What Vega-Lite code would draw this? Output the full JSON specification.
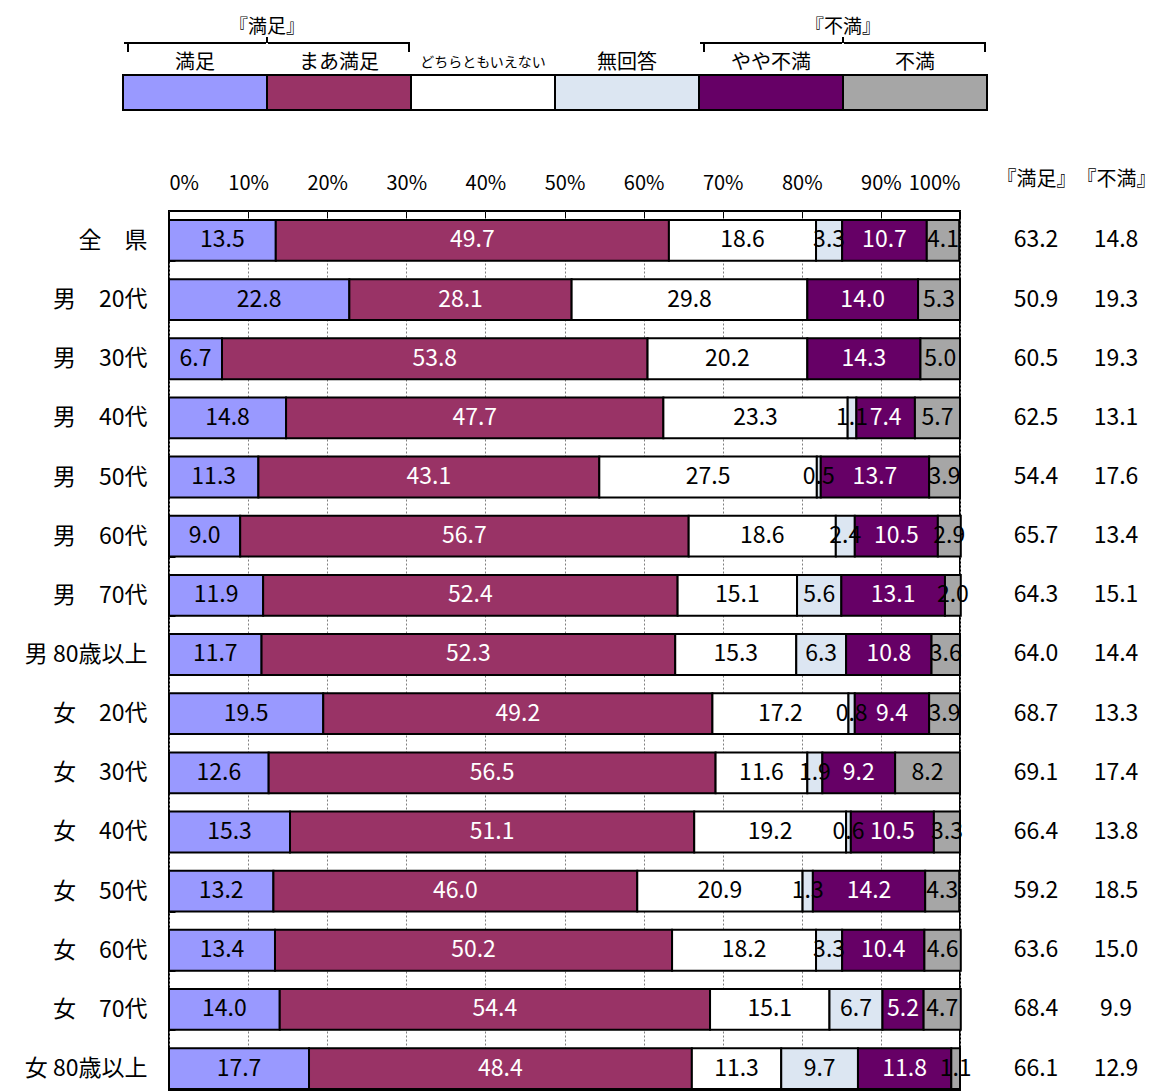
{
  "$schema": "https://vega.github.io/schema/vega-lite/v6.json",
  "background": "white",
  "padding": {"left": 3, "top": 18, "right": 0, "bottom": 0},
  "columns": 1,
  "align": "none",
  "spacing": 54,
  "config": {
    "view": {"stroke": null},
    "font": "Noto Sans CJK JP",
    "text": {"font": "Noto Sans CJK JP"},
    "axis": {"labelFont": "Noto Sans CJK JP", "titleFont": "Noto Sans CJK JP", "labelColor": "black"}
  },
  "datasets": {
    "legend": [
      {"cat": "満足", "part": "box"}, {"cat": "まあ満足", "part": "box"}, {"cat": "どちらともいえない", "part": "box"}, {"cat": "無回答", "part": "box"}, {"cat": "やや不満", "part": "box"}, {"cat": "不満", "part": "box"}
    ],
    "bars": [
      {"g": "全　県", "c": "満足", "o": 1, "v": 13.5}, {"g": "全　県", "c": "まあ満足", "o": 2, "v": 49.7}, {"g": "全　県", "c": "どちらともいえない", "o": 3, "v": 18.6}, {"g": "全　県", "c": "無回答", "o": 4, "v": 3.3}, {"g": "全　県", "c": "やや不満", "o": 5, "v": 10.7}, {"g": "全　県", "c": "不満", "o": 6, "v": 4.1},
      {"g": "男　20代", "c": "満足", "o": 1, "v": 22.8}, {"g": "男　20代", "c": "まあ満足", "o": 2, "v": 28.1}, {"g": "男　20代", "c": "どちらともいえない", "o": 3, "v": 29.8}, {"g": "男　20代", "c": "やや不満", "o": 5, "v": 14.0}, {"g": "男　20代", "c": "不満", "o": 6, "v": 5.3},
      {"g": "男　30代", "c": "満足", "o": 1, "v": 6.7}, {"g": "男　30代", "c": "まあ満足", "o": 2, "v": 53.8}, {"g": "男　30代", "c": "どちらともいえない", "o": 3, "v": 20.2}, {"g": "男　30代", "c": "やや不満", "o": 5, "v": 14.3}, {"g": "男　30代", "c": "不満", "o": 6, "v": 5.0},
      {"g": "男　40代", "c": "満足", "o": 1, "v": 14.8}, {"g": "男　40代", "c": "まあ満足", "o": 2, "v": 47.7}, {"g": "男　40代", "c": "どちらともいえない", "o": 3, "v": 23.3}, {"g": "男　40代", "c": "無回答", "o": 4, "v": 1.1}, {"g": "男　40代", "c": "やや不満", "o": 5, "v": 7.4}, {"g": "男　40代", "c": "不満", "o": 6, "v": 5.7},
      {"g": "男　50代", "c": "満足", "o": 1, "v": 11.3}, {"g": "男　50代", "c": "まあ満足", "o": 2, "v": 43.1}, {"g": "男　50代", "c": "どちらともいえない", "o": 3, "v": 27.5}, {"g": "男　50代", "c": "無回答", "o": 4, "v": 0.5}, {"g": "男　50代", "c": "やや不満", "o": 5, "v": 13.7}, {"g": "男　50代", "c": "不満", "o": 6, "v": 3.9},
      {"g": "男　60代", "c": "満足", "o": 1, "v": 9.0}, {"g": "男　60代", "c": "まあ満足", "o": 2, "v": 56.7}, {"g": "男　60代", "c": "どちらともいえない", "o": 3, "v": 18.6}, {"g": "男　60代", "c": "無回答", "o": 4, "v": 2.4}, {"g": "男　60代", "c": "やや不満", "o": 5, "v": 10.5}, {"g": "男　60代", "c": "不満", "o": 6, "v": 2.9},
      {"g": "男　70代", "c": "満足", "o": 1, "v": 11.9}, {"g": "男　70代", "c": "まあ満足", "o": 2, "v": 52.4}, {"g": "男　70代", "c": "どちらともいえない", "o": 3, "v": 15.1}, {"g": "男　70代", "c": "無回答", "o": 4, "v": 5.6}, {"g": "男　70代", "c": "やや不満", "o": 5, "v": 13.1}, {"g": "男　70代", "c": "不満", "o": 6, "v": 2.0},
      {"g": "男 80歳以上", "c": "満足", "o": 1, "v": 11.7}, {"g": "男 80歳以上", "c": "まあ満足", "o": 2, "v": 52.3}, {"g": "男 80歳以上", "c": "どちらともいえない", "o": 3, "v": 15.3}, {"g": "男 80歳以上", "c": "無回答", "o": 4, "v": 6.3}, {"g": "男 80歳以上", "c": "やや不満", "o": 5, "v": 10.8}, {"g": "男 80歳以上", "c": "不満", "o": 6, "v": 3.6},
      {"g": "女　20代", "c": "満足", "o": 1, "v": 19.5}, {"g": "女　20代", "c": "まあ満足", "o": 2, "v": 49.2}, {"g": "女　20代", "c": "どちらともいえない", "o": 3, "v": 17.2}, {"g": "女　20代", "c": "無回答", "o": 4, "v": 0.8}, {"g": "女　20代", "c": "やや不満", "o": 5, "v": 9.4}, {"g": "女　20代", "c": "不満", "o": 6, "v": 3.9},
      {"g": "女　30代", "c": "満足", "o": 1, "v": 12.6}, {"g": "女　30代", "c": "まあ満足", "o": 2, "v": 56.5}, {"g": "女　30代", "c": "どちらともいえない", "o": 3, "v": 11.6}, {"g": "女　30代", "c": "無回答", "o": 4, "v": 1.9}, {"g": "女　30代", "c": "やや不満", "o": 5, "v": 9.2}, {"g": "女　30代", "c": "不満", "o": 6, "v": 8.2},
      {"g": "女　40代", "c": "満足", "o": 1, "v": 15.3}, {"g": "女　40代", "c": "まあ満足", "o": 2, "v": 51.1}, {"g": "女　40代", "c": "どちらともいえない", "o": 3, "v": 19.2}, {"g": "女　40代", "c": "無回答", "o": 4, "v": 0.6}, {"g": "女　40代", "c": "やや不満", "o": 5, "v": 10.5}, {"g": "女　40代", "c": "不満", "o": 6, "v": 3.3},
      {"g": "女　50代", "c": "満足", "o": 1, "v": 13.2}, {"g": "女　50代", "c": "まあ満足", "o": 2, "v": 46.0}, {"g": "女　50代", "c": "どちらともいえない", "o": 3, "v": 20.9}, {"g": "女　50代", "c": "無回答", "o": 4, "v": 1.3}, {"g": "女　50代", "c": "やや不満", "o": 5, "v": 14.2}, {"g": "女　50代", "c": "不満", "o": 6, "v": 4.3},
      {"g": "女　60代", "c": "満足", "o": 1, "v": 13.4}, {"g": "女　60代", "c": "まあ満足", "o": 2, "v": 50.2}, {"g": "女　60代", "c": "どちらともいえない", "o": 3, "v": 18.2}, {"g": "女　60代", "c": "無回答", "o": 4, "v": 3.3}, {"g": "女　60代", "c": "やや不満", "o": 5, "v": 10.4}, {"g": "女　60代", "c": "不満", "o": 6, "v": 4.6},
      {"g": "女　70代", "c": "満足", "o": 1, "v": 14.0}, {"g": "女　70代", "c": "まあ満足", "o": 2, "v": 54.4}, {"g": "女　70代", "c": "どちらともいえない", "o": 3, "v": 15.1}, {"g": "女　70代", "c": "無回答", "o": 4, "v": 6.7}, {"g": "女　70代", "c": "やや不満", "o": 5, "v": 5.2}, {"g": "女　70代", "c": "不満", "o": 6, "v": 4.7},
      {"g": "女 80歳以上", "c": "満足", "o": 1, "v": 17.7}, {"g": "女 80歳以上", "c": "まあ満足", "o": 2, "v": 48.4}, {"g": "女 80歳以上", "c": "どちらともいえない", "o": 3, "v": 11.3}, {"g": "女 80歳以上", "c": "無回答", "o": 4, "v": 9.7}, {"g": "女 80歳以上", "c": "やや不満", "o": 5, "v": 11.8}, {"g": "女 80歳以上", "c": "不満", "o": 6, "v": 1.1}
    ],
    "totals": [
      {"g": "全　県", "col": "『満足』", "v": 63.2}, {"g": "全　県", "col": "『不満』", "v": 14.8},
      {"g": "男　20代", "col": "『満足』", "v": 50.9}, {"g": "男　20代", "col": "『不満』", "v": 19.3},
      {"g": "男　30代", "col": "『満足』", "v": 60.5}, {"g": "男　30代", "col": "『不満』", "v": 19.3},
      {"g": "男　40代", "col": "『満足』", "v": 62.5}, {"g": "男　40代", "col": "『不満』", "v": 13.1},
      {"g": "男　50代", "col": "『満足』", "v": 54.4}, {"g": "男　50代", "col": "『不満』", "v": 17.6},
      {"g": "男　60代", "col": "『満足』", "v": 65.7}, {"g": "男　60代", "col": "『不満』", "v": 13.4},
      {"g": "男　70代", "col": "『満足』", "v": 64.3}, {"g": "男　70代", "col": "『不満』", "v": 15.1},
      {"g": "男 80歳以上", "col": "『満足』", "v": 64.0}, {"g": "男 80歳以上", "col": "『不満』", "v": 14.4},
      {"g": "女　20代", "col": "『満足』", "v": 68.7}, {"g": "女　20代", "col": "『不満』", "v": 13.3},
      {"g": "女　30代", "col": "『満足』", "v": 69.1}, {"g": "女　30代", "col": "『不満』", "v": 17.4},
      {"g": "女　40代", "col": "『満足』", "v": 66.4}, {"g": "女　40代", "col": "『不満』", "v": 13.8},
      {"g": "女　50代", "col": "『満足』", "v": 59.2}, {"g": "女　50代", "col": "『不満』", "v": 18.5},
      {"g": "女　60代", "col": "『満足』", "v": 63.6}, {"g": "女　60代", "col": "『不満』", "v": 15.0},
      {"g": "女　70代", "col": "『満足』", "v": 68.4}, {"g": "女　70代", "col": "『不満』", "v": 9.9},
      {"g": "女 80歳以上", "col": "『満足』", "v": 66.1}, {"g": "女 80歳以上", "col": "『不満』", "v": 12.9}
    ]
  },
  "concat": [
    {
      "width": 864,
      "height": 35,
      "data": {"name": "legend"},
      "encoding": {
        "x": {"field": "cat", "type": "nominal", "scale": {"domain": ["満足", "まあ満足", "どちらともいえない", "無回答", "やや不満", "不満"], "range": [-46, 818], "paddingInner": 0, "paddingOuter": 0}, "axis": null}
      },
      "layer": [
        {
          "mark": {"type": "rect", "stroke": "black", "strokeWidth": 2},
          "encoding": {
            "y": {"field": "part", "type": "nominal", "scale": {"paddingInner": 0, "paddingOuter": 0}, "axis": null},
            "color": {"field": "cat", "type": "nominal", "scale": {"domain": ["満足", "まあ満足", "どちらともいえない", "無回答", "やや不満", "不満"], "range": ["#9999FF", "#993366", "#FFFFFF", "#DCE6F2", "#660066", "#A6A6A6"]}, "legend": null}
          }
        },
        {
          "mark": {"type": "text", "baseline": "middle", "align": "center", "yOffset": -29.5, "color": "black"},
          "encoding": {
            "text": {"field": "cat"},
            "size": {"condition": {"test": "datum.cat === 'どちらともいえない'", "value": 14}, "value": 20}
          }
        },
        {
          "data": {"values": [{"cat": "満足"}, {"cat": "まあ満足"}, {"cat": "やや不満"}, {"cat": "不満"}]},
          "mark": {"type": "tick", "orient": "horizontal", "size": 142, "thickness": 2, "color": "black", "yOffset": -49.5, "opacity": 1},
          "encoding": {"x": {"field": "cat", "type": "nominal"}}
        },
        {
          "data": {"values": [{"cat": "満足"}, {"cat": "やや不満"}]},
          "mark": {"type": "tick", "orient": "vertical", "size": 9, "thickness": 2, "color": "black", "yOffset": -45, "xOffset": 5, "opacity": 1},
          "encoding": {"x": {"field": "cat", "type": "nominal", "bandPosition": 0}}
        },
        {
          "data": {"values": [{"cat": "まあ満足"}, {"cat": "不満"}]},
          "mark": {"type": "tick", "orient": "vertical", "size": 9, "thickness": 2, "color": "black", "yOffset": -45, "xOffset": -2, "opacity": 1},
          "encoding": {"x": {"field": "cat", "type": "nominal", "bandPosition": 1}}
        },
        {
          "data": {"values": [{"cat": "まあ満足"}, {"cat": "不満"}]},
          "mark": {"type": "tick", "orient": "vertical", "size": 6, "thickness": 2, "color": "black", "yOffset": -52.5, "opacity": 1},
          "encoding": {"x": {"field": "cat", "type": "nominal", "bandPosition": 0}}
        },
        {
          "data": {"values": [{"cat": "まあ満足", "h": "『満足』"}, {"cat": "不満", "h": "『不満』"}]},
          "mark": {"type": "text", "baseline": "middle", "align": "center", "yOffset": -65.5, "fontSize": 19, "color": "black"},
          "encoding": {"x": {"field": "cat", "type": "nominal", "bandPosition": 0}, "text": {"field": "h"}}
        }
      ]
    },
    {
      "spacing": 23,
      "hconcat": [
        {
          "width": 791,
          "height": 879,
          "view": {"stroke": "black", "strokeWidth": 2},
          "data": {"name": "bars"},
          "encoding": {
            "y": {
              "field": "g", "type": "nominal",
              "scale": {"type": "band", "domain": ["全　県", "男　20代", "男　30代", "男　40代", "男　50代", "男　60代", "男　70代", "男 80歳以上", "女　20代", "女　30代", "女　40代", "女　50代", "女　60代", "女　70代", "女 80歳以上"], "paddingInner": 0.31, "paddingOuter": 0.0845, "align": 0.9},
              "axis": {"title": null, "domain": false, "labelFontSize": 23, "labelPadding": 28, "tickSize": -6, "tickBand": "extent", "tickColor": "black", "tickWidth": 1, "minExtent": 165, "maxExtent": 165}
            }
          },
          "layer": [
            {
              "mark": {"type": "bar", "stroke": "black", "strokeWidth": 2},
              "encoding": {
                "x": {
                  "field": "v", "type": "quantitative", "stack": "zero",
                  "scale": {"domain": [0, 100], "nice": false},
                  "axis": {"orient": "top", "title": null, "values": [0, 10, 20, 30, 40, 50, 60, 70, 80, 90, 100], "labelExpr": "datum.value + '%'", "labelFontSize": 20, "labelPadding": 25, "tickSize": -7, "tickColor": "black", "domain": false, "grid": true, "gridDash": [2, 2], "gridColor": "#808080", "gridWidth": 1, "minExtent": 45, "maxExtent": 45}
                },
                "color": {"field": "c", "type": "nominal", "scale": {"domain": ["満足", "まあ満足", "どちらともいえない", "無回答", "やや不満", "不満"], "range": ["#9999FF", "#993366", "#FFFFFF", "#DCE6F2", "#660066", "#A6A6A6"]}, "legend": null},
                "order": {"field": "o", "type": "quantitative"}
              }
            },
            {
              "mark": {"type": "text", "fontSize": 23, "baseline": "middle", "align": "center"},
              "encoding": {
                "x": {"field": "v", "type": "quantitative", "stack": "zero", "bandPosition": 0.5},
                "detail": {"field": "c"},
                "order": {"field": "o", "type": "quantitative"},
                "text": {"field": "v", "type": "quantitative", "format": ".1f"},
                "color": {"condition": {"test": "datum.c === 'まあ満足' || datum.c === 'やや不満'", "value": "white"}, "value": "black"}
              }
            }
          ]
        },
        {
          "width": 160,
          "height": 879,
          "data": {"name": "totals"},
          "mark": {"type": "text", "fontSize": 23, "baseline": "middle", "align": "center", "color": "black"},
          "encoding": {
            "y": {
              "field": "g", "type": "nominal",
              "scale": {"type": "band", "domain": ["全　県", "男　20代", "男　30代", "男　40代", "男　50代", "男　60代", "男　70代", "男 80歳以上", "女　20代", "女　30代", "女　40代", "女　50代", "女　60代", "女　70代", "女 80歳以上"], "paddingInner": 0.31, "paddingOuter": 0.0845, "align": 0.9},
              "axis": null
            },
            "x": {
              "field": "col", "type": "nominal",
              "scale": {"domain": ["『満足』", "『不満』"], "paddingInner": 0, "paddingOuter": 0},
              "axis": {"orient": "top", "title": null, "domain": false, "ticks": false, "labelAngle": 0, "labelFontSize": 20, "labelPadding": 22, "minExtent": 45, "maxExtent": 45}
            },
            "text": {"field": "v", "type": "quantitative", "format": ".1f"}
          }
        }
      ]
    }
  ]
}
